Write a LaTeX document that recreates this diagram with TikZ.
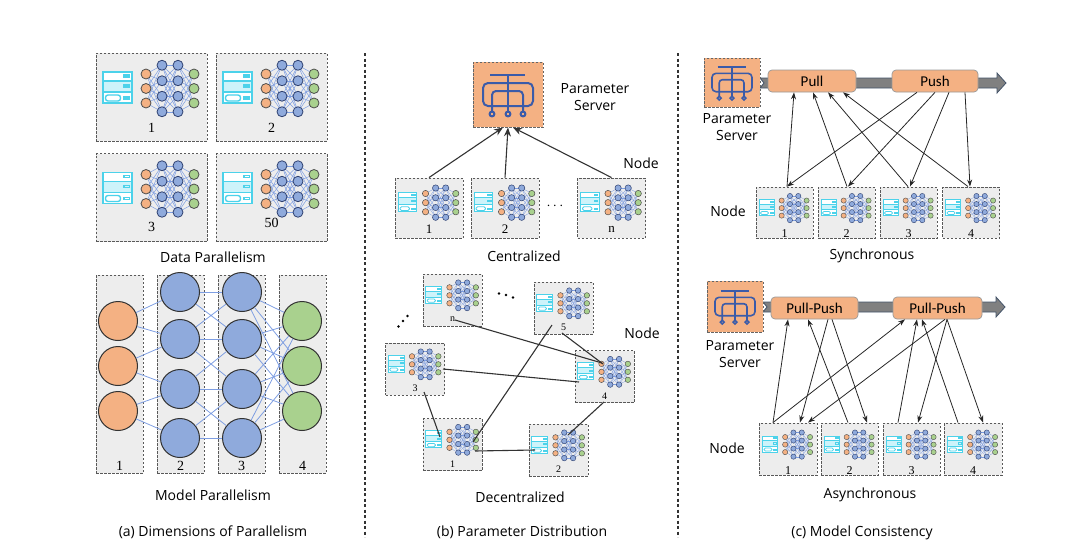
\documentclass[tikz,border=0pt]{standalone}
\usepackage{fontspec}
\setmainfont{Open Sans}
\newfontfamily\numfont{Liberation Serif}
\newfontfamily\boxfont{Carlito}
\usepackage{tikz}
\usetikzlibrary{positioning,arrows.meta}
\definecolor{nnorange}{HTML}{F4B183}
\definecolor{nnblue}{HTML}{8FAADC}
\definecolor{nngreen}{HTML}{A9D18E}
\definecolor{nnnavy}{HTML}{2F4170}
\definecolor{nnedge}{HTML}{7E9EE2}
\definecolor{srvcyan}{HTML}{4CD2EA}
\definecolor{srvfill}{HTML}{CDF3FA}
\definecolor{psblue}{HTML}{3B5BA9}
\definecolor{psorange}{HTML}{F4B183}
\definecolor{boxgray}{HTML}{EDEDED}
\definecolor{bargray}{HTML}{808080}
\definecolor{barline}{HTML}{44546A}

\tikzset{
  pics/nnicon/.style={code={
    \foreach \u in {-23,-8.5,6}
      \foreach \v in {-31.75,-16.25,-0.75,14.75}
        {\draw[nnedge,line width=.5*#1] (-5.5,\u) -- (10.5,\v) (26.5,\v) -- (42.5,\u);}
    \foreach \u in {-31.75,-16.25,-0.75,14.75}
      \foreach \v in {-31.75,-16.25,-0.75,14.75}
        {\draw[nnedge,line width=.5*#1] (10.5,\u) -- (26.5,\v);}
    \foreach \u in {-23,-8.5,6}
      {\draw[draw=black!70,fill=nnorange,line width=.8*#1] (-5.5,\u) circle (5);
       \draw[draw=black!70,fill=nngreen,line width=.8*#1] (42.5,\u) circle (5);}
    \foreach \u in {-31.75,-16.25,-0.75,14.75}
      {\draw[draw=nnnavy,fill=nnblue,line width=.8*#1] (10.5,\u) circle (5) (26.5,\u) circle (5);}
    \fill[white] (-48.5,-25) rectangle (-19.5,6);
    \fill[srvfill] (-48.5,-16) rectangle (-19.5,-5);
    \draw[srvcyan,line width=1.6*#1] (-48.5,-25) rectangle (-19.5,6) (-48.5,-16) -- (-19.5,-16) (-48.5,-5) -- (-19.5,-5);
    \draw[srvcyan,line width=1.1*#1] (-27.5,-22) rectangle (-22,-20) (-27.5,-12) rectangle (-22,-10) (-27.5,0) rectangle (-22,2);
    \draw[srvcyan,line width=1.4*#1,rounded corners=2.5*#1] (-46,-2) rectangle (-31,4);
  }},
  pics/psicon/.style={code={
    \begin{scope}[psblue,line width=#1]
      \draw (-18,-19.5) -- (17,-19.5) (0,-19.5) -- (0,17);
      \draw[rounded corners=2.5*#1] (-25,11.5) -- (-25,-11.5) -- (25,-11.5) -- (25,11.5) -- cycle;
      \draw[rounded corners=2*#1] (-16,17) -- (-16,-3.5) -- (15,-3.5) -- (15,17);
      \draw (0,19.5) circle (2.4) (-16,19.5) circle (2.4) (15,19.5) circle (2.4);
    \end{scope}
  }}
}

\begin{document}
\begin{tikzpicture}[x=1pt,y=-1pt,>={Stealth[length=7pt,width=5pt]},
    dashbox/.style={draw=black!65,fill=boxgray,dash pattern=on 2.5pt off 1.5pt,line width=.9pt,inner sep=0},
    dpbox/.style={dashbox,minimum width=111pt,minimum height=88pt},
    colbox/.style={dashbox,minimum width=47pt,minimum height=198pt},
    cnbox/.style={dashbox,minimum width=68pt,minimum height=60pt},
    dnbox/.style={dashbox,minimum width=59pt,minimum height=52pt},
    snbox/.style={dashbox,minimum width=57pt,minimum height=51pt},
    psbox/.style={dashbox,fill=psorange,draw=black!60},
    phase/.style={draw=black!40,fill=psorange,rounded corners=4pt,line width=.7pt,minimum height=22pt,font=\boxfont\fontsize{15}{17}\selectfont},
    neuron/.style={circle,draw=black!80,line width=1pt,minimum size=39pt,inner sep=0},
    numlab/.style={font=\numfont\fontsize{#1}{#1}\selectfont,inner sep=0},
    numlab/.default=14,
    ttl/.style={font=\fontsize{14}{17}\selectfont,align=center},
    wire/.style={nnedge,line width=.8pt},
    link/.style={black!80,line width=1.1pt},
    sendto/.style={->,black!85,line width=.8pt},
    divider/.style={black!80,line width=1.2pt,dash pattern=on 3pt off 2.5pt},
    bar/.style={fill=bargray,draw=barline,line width=.8pt}]

  \useasboundingbox (0,0) rectangle (1080,555);

  \draw[divider] (365,53) -- (365,537);
  \draw[divider] (678,53) -- (678,537);

  % (a) data parallelism
  \node[dpbox] (dp1) at (151.5,97) {};
  \node[dpbox] (dp2) at (271.5,97) {};
  \node[dpbox] (dp3) at (151.5,197.5) {};
  \node[dpbox] (dp4) at (271.5,197.5) {};
  \foreach \b in {dp1,dp2,dp3,dp4}
    \pic at (\b) {nnicon=1pt};
  \node[numlab] (dl1) at ([yshift=14pt]dp1.south) {1};
  \node[numlab] (dl2) at ([yshift=14pt]dp2.south) {2};
  \node[numlab] (dl3) at ([yshift=15pt]dp3.south) {3};
  \node[numlab] (dl4) at ([yshift=19pt]dp4.south) {50};
  \node[ttl] (tdata) at (213,257) {Data Parallelism};

  % (a) model parallelism
  \node[colbox] (mp1) at (119.5,374) {};
  \node[colbox] (mp2) at (180.5,374) {};
  \node[colbox] (mp3) at (241.5,374) {};
  \node[colbox] (mp4) at (302.5,374) {};
  \foreach \y [count=\i] in {321,366,411} {
    \node[neuron,fill=nnorange] (o\i) at (118,\y) {};
    \node[neuron,fill=nngreen] (g\i) at (302,\y) {};
  }
  \foreach \y [count=\i] in {292,339,389,438} {
    \node[neuron,fill=nnblue] (b\i) at (180,\y) {};
    \node[neuron,fill=nnblue] (c\i) at (242,\y) {};
  }
  \foreach \i [evaluate=\i as \j using int(\i+1)] in {1,2,3}
    \draw[wire] (o\i) -- (b\i) (o\i) -- (b\j) (b\i) -- (c\j) (b\j) -- (c\i);
  \foreach \i in {1,...,4} {
    \draw[wire] (b\i) -- (c\i);
    \foreach \k in {1,2,3}
      \draw[wire] (c\i) -- (g\k);
  }
  \foreach \m [count=\i] in {mp1,mp2,mp3,mp4}
    \node[numlab] (ml\i) at ([yshift=8pt]\m.south) {\i};
  \node[ttl] (tmodel) at (213,495) {Model Parallelism};
  \node[ttl] (ta) at (213,532) {(a) Dimensions of Parallelism};

  % (b) centralized
  \node[psbox,minimum width=70pt,minimum height=65pt] (ps) at (508,94.5) {};
  \pic at (ps) {psicon=2pt};
  \node[ttl] (pslab) at (595,97) {Parameter\\Server};
  \node[cnbox] (cn1) at (429,208) {};
  \node[cnbox] (cn2) at (505,208) {};
  \node[cnbox] (cnn) at (611.5,208) {};
  \foreach \b in {cn1,cn2,cnn}
    \pic[scale=.63] at (\b) {nnicon=.63pt};
  \node[numlab=13] (cl1) at ([yshift=9pt]cn1.south) {1};
  \node[numlab=13] (cl2) at ([yshift=9pt]cn2.south) {2};
  \node[numlab=13] (cln) at ([yshift=9pt]cnn.south) {n};
  \node[font=\fontsize{15}{15}\selectfont] (cdots) at (555,206) {$\cdots$};
  \node[ttl] (cnode) at (641,163) {Node};
  \draw[->,link,>={Stealth[length=9pt,width=7pt]}] (cn1.north) -- ([xshift=-5pt]ps.south);
  \draw[->,link,>={Stealth[length=9pt,width=7pt]}] (cn2.north) -- (ps.south);
  \draw[->,link,>={Stealth[length=9pt,width=7pt]}] (cnn.north) -- ([xshift=5pt]ps.south);
  \node[ttl] (tcent) at (524,256) {Centralized};

  % (b) decentralized
  \node[dnbox] (dnn) at (452.5,300) {};
  \node[dnbox] (dn5) at (563.5,308) {};
  \node[dnbox] (dn3) at (415,369) {};
  \node[dnbox] (dn4) at (604.5,376.5) {};
  \node[dnbox] (dn1) at (452.5,444.5) {};
  \node[dnbox] (dn2) at (558.5,450) {};
  \foreach \b in {dnn,dn5,dn3,dn4,dn1,dn2}
    \pic[scale=.55] at (\b) {nnicon=.55pt};
  \foreach \b/\t in {dnn/n,dn5/5,dn3/3,dn4/4,dn1/1,dn2/2}
    \node[numlab=10] (l\b) at ([yshift=7pt]\b.south) {\t};
  \foreach \x/\y in {499/293.5,506/295,513/297.5}
    \fill (\x,\y) circle (1.3);
  \foreach \x/\y in {398.5/326.5,403/321,407.5/316}
    \fill (\x,\y) circle (1.3);
  \node[ttl] (dnode) at (642,333) {Node};
  \draw[link] ([shift={(2.5,20)}]dnn.center) -- ([shift={(-2.5,-13.5)}]dn4.center);
  \draw[link] ([shift={(-1.5,25)}]dn5.center) -- ([shift={(-1.5,-12.5)}]dn4.center);
  \draw[link] ([shift={(-11.5,17)}]dn5.center) -- ([shift={(20.5,-2.5)}]dn1.center);
  \draw[link] ([shift={(28,0)}]dn3.center) -- ([shift={(-25.5,5.5)}]dn4.center);
  \draw[link] ([shift={(9,23)}]dn3.center) -- ([shift={(-12.5,-7.5)}]dn1.center);
  \draw[link] ([shift={(22.5,6.5)}]dn1.center) -- ([shift={(-23.5,0)}]dn2.center);
  \draw[link] ([shift={(-0.5,25.5)}]dn4.center) -- ([shift={(9.5,-15)}]dn2.center);
  \node[ttl] (tdec) at (520,497) {Decentralized};
  \node[ttl] (tb) at (522,532) {(b) Parameter Distribution};

  % (c) synchronous
  \draw[bar] (760,78) -- (997,78) -- (997,73) -- (1006,83) -- (997,93) -- (997,88) -- (760,88) -- (764,83) -- cycle;
  \node[psbox,minimum width=56pt,minimum height=49pt] (sps) at (732,82.5) {};
  \pic[scale=.8] at (sps) {psicon=1.6pt};
  \node[ttl] (spslab) at (737,127.5) {Parameter\\Server};
  \node[phase,minimum width=88pt] (pull) at (812,81) {Pull};
  \node[phase,minimum width=86pt] (push) at (935,81) {Push};
  \node[snbox] (sn1) at (784.5,212.5) {};
  \node[snbox] (sn2) at (846.5,212.5) {};
  \node[snbox] (sn3) at (908.5,212.5) {};
  \node[snbox] (sn4) at (971,212.5) {};
  \foreach \b [count=\i] in {sn1,sn2,sn3,sn4} {
    \pic[scale=.52] at (\b) {nnicon=.52pt};
    \node[numlab=12] (sl\i) at ([yshift=5pt]\b.south) {\i};
  }
  \node[ttl] (snode) at (728,211) {Node};
  \draw[sendto] ([xshift=2.5pt]sn1.north) -- ([xshift=-18pt]pull.south);
  \draw[sendto] ([xshift=.5pt]sn2.north) -- ([xshift=1pt]pull.south);
  \draw[sendto] ([xshift=-.5pt]sn3.north) -- ([xshift=16pt]pull.south);
  \draw[sendto] ([xshift=-3pt]sn4.north) -- ([xshift=31pt]pull.south);
  \draw[sendto] ([xshift=-18pt]push.south) -- ([xshift=2.5pt]sn1.north);
  \draw[sendto] (push.south) -- ([xshift=1.5pt]sn2.north);
  \draw[sendto] ([xshift=14pt]push.south) -- ([xshift=1.5pt]sn3.north);
  \draw[sendto] ([xshift=30pt]push.south) -- ([xshift=-1pt]sn4.north);
  \node[ttl] (tsync) at (872,256) {Synchronous};

  % (c) asynchronous
  \draw[bar] (763,302) -- (996,302) -- (996,297) -- (1005,307) -- (996,317) -- (996,312) -- (763,312) -- (767,307) -- cycle;
  \node[psbox,minimum width=56pt,minimum height=51pt] (aps) at (735,306.5) {};
  \pic[scale=.8] at (aps) {psicon=1.6pt};
  \node[ttl] (apslab) at (740,354.5) {Parameter\\Server};
  \node[phase,minimum width=87pt] (pp1) at (814.5,308) {Pull-Push};
  \node[phase,minimum width=89pt] (pp2) at (937.5,308) {Pull-Push};
  \node[dnbox,minimum width=58pt] (an1) at (788,449) {};
  \node[dnbox,minimum width=57pt] (an2) at (849.5,449) {};
  \node[dnbox,minimum width=57pt] (an3) at (911.5,449) {};
  \node[dnbox,minimum width=58pt] (an4) at (973,449) {};
  \foreach \b [count=\i] in {an1,an2,an3,an4} {
    \pic[scale=.52] at (\b) {nnicon=.52pt};
    \node[numlab=12] (al\i) at ([yshift=5pt]\b.south) {\i};
  }
  \node[ttl] (anode) at (727,448) {Node};
  \draw[sendto] ([xshift=-15pt]an1.north) -- ([xshift=-26.5pt]pp1.south);
  \draw[sendto] ([xshift=-15pt]an1.north) -- ([xshift=-32.5pt]pp2.south);
  \draw[sendto] ([xshift=13.5pt]pp1.south) -- ([xshift=12pt]an1.north);
  \draw[sendto] ([xshift=7.5pt]pp2.south) -- ([xshift=20pt]an1.north);
  \draw[sendto] ([xshift=-1.5pt]an2.north) -- ([xshift=-6.5pt]pp1.south);
  \draw[sendto] ([xshift=17.5pt]pp1.south) -- ([xshift=17.5pt]an2.north);
  \draw[sendto] ([xshift=-13.5pt]an3.north) -- ([xshift=-20.5pt]pp2.south);
  \draw[sendto] ([xshift=9.5pt]pp2.south) -- ([xshift=6.5pt]an3.north);
  \draw[sendto] ([xshift=-15pt]an4.north) -- ([xshift=-15.5pt]pp2.south);
  \draw[sendto] ([xshift=9.5pt]pp2.south) -- ([xshift=10pt]an4.north);
  \node[ttl] (tasync) at (870,495) {Asynchronous};
  \node[ttl] (tc) at (862,533) {(c) Model Consistency};
\end{tikzpicture}
\end{document}
